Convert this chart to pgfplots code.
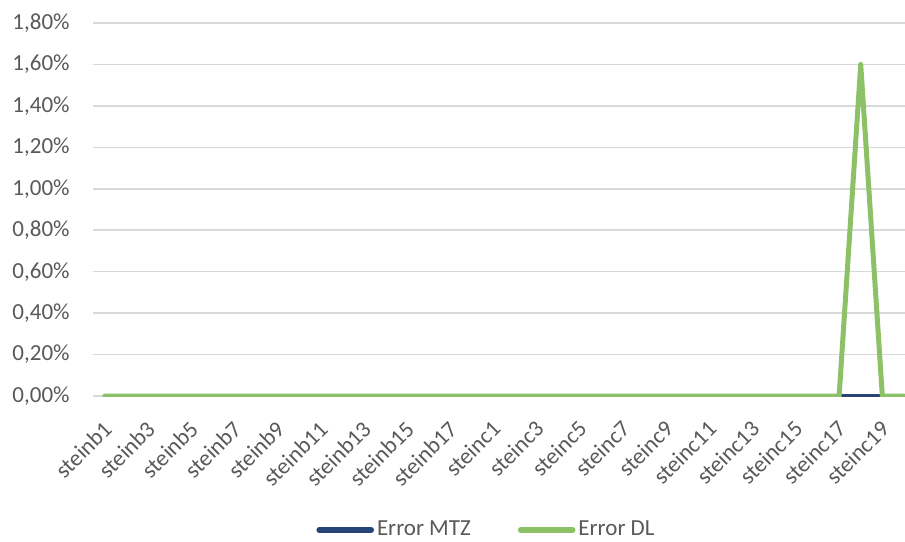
\documentclass[border=0pt]{standalone}
\usepackage{fontspec}
\setmainfont{Carlito}
\usepackage{pgfplots}
\pgfplotsset{compat=1.18}

\definecolor{mtzblue}{HTML}{264478}
\definecolor{dlgreen}{HTML}{8CC168}
\definecolor{gridgrey}{HTML}{D9D9D9}
\definecolor{labelgrey}{HTML}{595959}

\begin{document}
\begin{tikzpicture}
\useasboundingbox (-46.5pt,-72.5pt) rectangle (406pt,198pt);
\begin{axis}[
  scale only axis,
  width=406pt, height=186.5pt,
  xmin=-0.55, xmax=37.05,
  ymin=0, ymax=1.8,
  axis line style={draw=none},
  major tick length=0pt,
  ymajorgrids,
  major grid style={draw=gridgrey, line width=0.75pt},
  ytick={0,0.2,0.4,0.6,0.8,1.0,1.2,1.4,1.6,1.8},
  yticklabels={{0,00\%},{0,20\%},{0,40\%},{0,60\%},{0,80\%},{1,00\%},{1,20\%},{1,40\%},{1,60\%},{1,80\%}},
  xtick={0,2,...,36},
  xticklabels={steinb1,steinb3,steinb5,steinb7,steinb9,steinb11,steinb13,steinb15,steinb17,
               steinc1,steinc3,steinc5,steinc7,steinc9,steinc11,steinc13,steinc15,steinc17,steinc19},
  tick label style={font=\fontsize{11.5}{13}\selectfont, text=labelgrey},
  yticklabel style={anchor=east, inner sep=0pt, xshift=-11.5pt},
  xticklabel style={xshift=-1.5pt, yshift=-11.5pt, rotate=45, anchor=north east, inner sep=0pt},
  legend style={at={(0.4852,-0.3592)}, anchor=center, draw=none, fill=none,
    legend columns=2, font=\fontsize{11.5}{13}\selectfont, text=labelgrey,
    /tikz/every even column/.append style={column sep=22pt},
    nodes={inner xsep=1.5pt, inner ysep=1pt}},
  legend image code/.code={\draw[#1, line width=2.8pt, line cap=round] (0pt,0pt) -- (26pt,0pt);},
  clip=true,
]
% Error MTZ: zero for every instance
\addplot[mtzblue, line width=2.5pt, line join=round] coordinates {
  (0,0) (1,0) (2,0) (3,0) (4,0) (5,0) (6,0) (7,0) (8,0) (9,0)
  (10,0) (11,0) (12,0) (13,0) (14,0) (15,0) (16,0) (17,0) (18,0) (19,0)
  (20,0) (21,0) (22,0) (23,0) (24,0) (25,0) (26,0) (27,0) (28,0) (29,0)
  (30,0) (31,0) (32,0) (33,0) (34,0) (35,0) (36,0) (37,0)
};
\addlegendentry{Error MTZ}
% Error DL: single non-zero value at steinc18
\addplot[dlgreen, line width=2.5pt, line join=round, line cap=round] coordinates {
  (0,0) (1,0) (2,0) (3,0) (4,0) (5,0) (6,0) (7,0) (8,0) (9,0)
  (10,0) (11,0) (12,0) (13,0) (14,0) (15,0) (16,0) (17,0) (18,0) (19,0)
  (20,0) (21,0) (22,0) (23,0) (24,0) (25,0) (26,0) (27,0) (28,0) (29,0)
  (30,0) (31,0) (32,0) (33,0) (34,0) (35,1.6) (36,0) (37,0)
};
\addlegendentry{Error DL}
\end{axis}
\end{tikzpicture}
\end{document}
